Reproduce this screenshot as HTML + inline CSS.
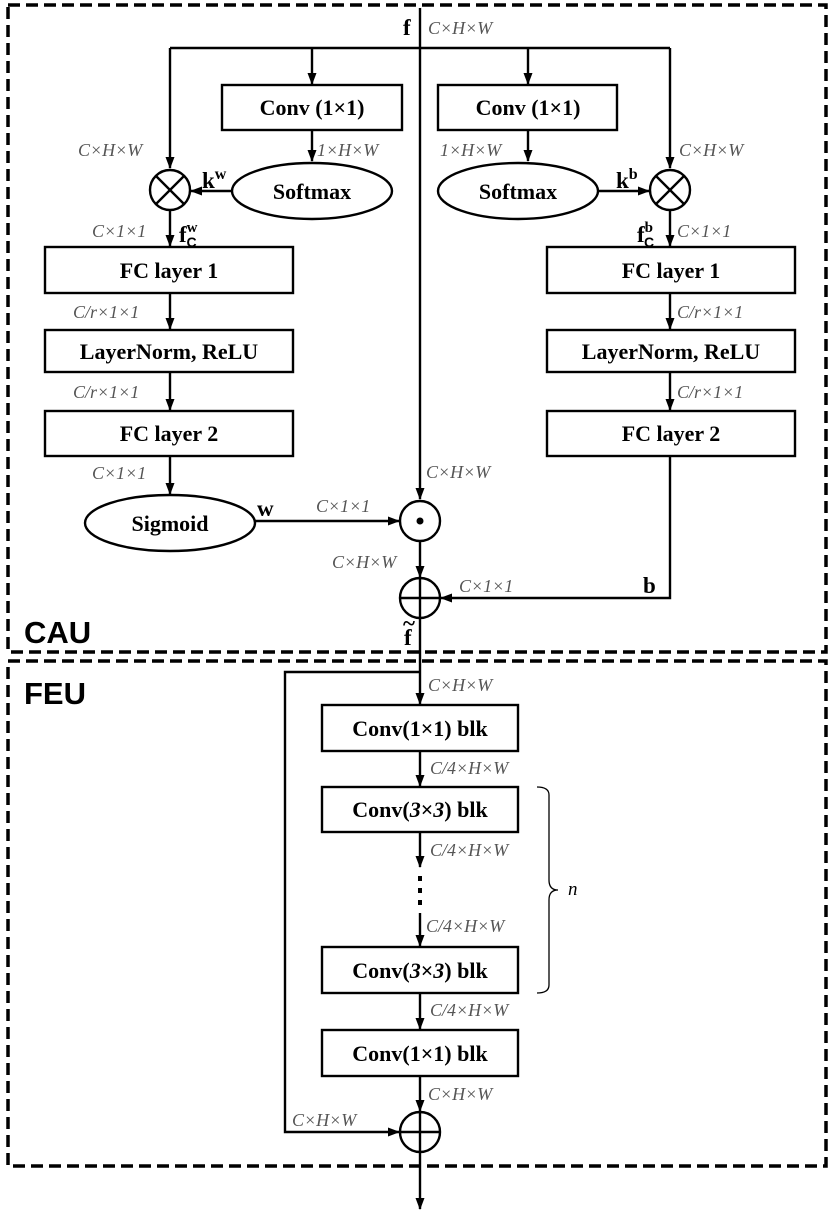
<!DOCTYPE html>
<html><head><meta charset="utf-8"><style>
html,body{margin:0;padding:0;background:#fff;}
svg{display:block;}
.b{font-family:"Liberation Serif",serif;font-weight:bold;font-size:22px;fill:#000;text-anchor:middle;}
.l{font-family:"Liberation Serif",serif;font-style:italic;font-size:18px;fill:#555;}
.s{font-family:"Liberation Sans",sans-serif;font-weight:bold;font-size:31px;fill:#000;}
.v{font-family:"Liberation Serif",serif;font-weight:bold;font-size:23px;fill:#000;}
</style></head><body>
<svg width="830" height="1218" viewBox="0 0 830 1218" xmlns="http://www.w3.org/2000/svg">
<defs><marker id="a" markerWidth="12" markerHeight="12" refX="11" refY="6" orient="auto" markerUnits="userSpaceOnUse"><path d="M0,1.5 L12,6 L0,10.5 Z" fill="#000"/></marker></defs>
<g fill="none" stroke="#000" stroke-width="3.5" stroke-dasharray="12,6">
<rect x="8" y="5" width="818" height="647"/>
<rect x="8" y="661" width="818" height="505"/>
</g>
<g fill="none" stroke="#000" stroke-width="2.4">
<line x1="420" y1="8" x2="420" y2="499" marker-end="url(#a)"/>
<line x1="170" y1="48" x2="670" y2="48"/>
<line x1="170" y1="48" x2="170" y2="168" marker-end="url(#a)"/>
<line x1="670" y1="48" x2="670" y2="168" marker-end="url(#a)"/>
<line x1="312" y1="48" x2="312" y2="84" marker-end="url(#a)"/>
<line x1="528" y1="48" x2="528" y2="84" marker-end="url(#a)"/>
<rect x="222" y="85" width="180" height="45"/>
<rect x="438" y="85" width="179" height="45"/>
<line x1="312" y1="130" x2="312" y2="161" marker-end="url(#a)"/>
<line x1="528" y1="130" x2="528" y2="161" marker-end="url(#a)"/>
<ellipse cx="312" cy="191" rx="80" ry="28"/>
<ellipse cx="518" cy="191" rx="80" ry="28"/>
<circle cx="170" cy="190" r="20"/>
<line x1="156" y1="176" x2="184" y2="204"/><line x1="184" y1="176" x2="156" y2="204"/>
<circle cx="670" cy="190" r="20"/>
<line x1="656" y1="176" x2="684" y2="204"/><line x1="684" y1="176" x2="656" y2="204"/>
<line x1="232" y1="191" x2="191" y2="191" marker-end="url(#a)"/>
<line x1="598" y1="191" x2="649" y2="191" marker-end="url(#a)"/>
<line x1="170" y1="210" x2="170" y2="246" marker-end="url(#a)"/>
<line x1="670" y1="210" x2="670" y2="246" marker-end="url(#a)"/>
<rect x="45" y="247" width="248" height="46"/>
<rect x="547" y="247" width="248" height="46"/>
<line x1="170" y1="293" x2="170" y2="329" marker-end="url(#a)"/>
<line x1="670" y1="293" x2="670" y2="329" marker-end="url(#a)"/>
<rect x="45" y="330" width="248" height="42"/>
<rect x="547" y="330" width="248" height="42"/>
<line x1="170" y1="372" x2="170" y2="410" marker-end="url(#a)"/>
<line x1="670" y1="372" x2="670" y2="410" marker-end="url(#a)"/>
<rect x="45" y="411" width="248" height="45"/>
<rect x="547" y="411" width="248" height="45"/>
<line x1="170" y1="456" x2="170" y2="494" marker-end="url(#a)"/>
<ellipse cx="170" cy="523" rx="85" ry="28"/>
<line x1="255" y1="521" x2="399" y2="521" marker-end="url(#a)"/>
<circle cx="420" cy="521" r="20"/>
<line x1="420" y1="541" x2="420" y2="577" marker-end="url(#a)"/>
<circle cx="420" cy="598" r="20"/>
<line x1="400" y1="598" x2="440" y2="598"/>
<line x1="420" y1="578" x2="420" y2="704" marker-end="url(#a)"/>
<polyline points="670,456 670,598 441,598" marker-end="url(#a)"/>
<polyline points="420,672 285,672 285,1132 399,1132" marker-end="url(#a)"/>
<rect x="322" y="705" width="196" height="46"/>
<line x1="420" y1="751" x2="420" y2="786" marker-end="url(#a)"/>
<rect x="322" y="787" width="196" height="45"/>
<line x1="420" y1="832" x2="420" y2="867" marker-end="url(#a)"/>
<line x1="420" y1="913" x2="420" y2="946" marker-end="url(#a)"/>
<rect x="322" y="947" width="196" height="46"/>
<line x1="420" y1="993" x2="420" y2="1029" marker-end="url(#a)"/>
<rect x="322" y="1030" width="196" height="46"/>
<line x1="420" y1="1076" x2="420" y2="1111" marker-end="url(#a)"/>
<circle cx="420" cy="1132" r="20"/>
<line x1="400" y1="1132" x2="440" y2="1132"/>
<line x1="420" y1="1112" x2="420" y2="1209" marker-end="url(#a)"/>
<path d="M537,787 Q549,787 549,795 L549,880 Q549,890 558,890 Q549,890 549,900 L549,985 Q549,993 537,993" stroke-width="1.3"/>
</g>
<circle cx="420" cy="521" r="3.5" fill="#000"/>
<rect x="418" y="876" width="4" height="5" fill="#000"/>
<rect x="418" y="888" width="4" height="5" fill="#000"/>
<rect x="418" y="900" width="4" height="5" fill="#000"/>
<text class="b" x="312" y="115">Conv (1×1)</text>
<text class="b" x="528" y="115">Conv (1×1)</text>
<text class="b" x="312" y="199">Softmax</text>
<text class="b" x="518" y="199">Softmax</text>
<text class="b" x="169" y="278">FC layer 1</text>
<text class="b" x="671" y="278">FC layer 1</text>
<text class="b" x="169" y="359">LayerNorm, ReLU</text>
<text class="b" x="671" y="359">LayerNorm, ReLU</text>
<text class="b" x="169" y="441">FC layer 2</text>
<text class="b" x="671" y="441">FC layer 2</text>
<text class="b" x="170" y="531">Sigmoid</text>
<text class="b" x="420" y="736">Conv(1×1) blk</text>
<text class="b" x="420" y="817">Conv(<tspan font-style="italic">3</tspan>×<tspan font-style="italic">3</tspan>) blk</text>
<text class="b" x="420" y="978">Conv(<tspan font-style="italic">3</tspan>×<tspan font-style="italic">3</tspan>) blk</text>
<text class="b" x="420" y="1061">Conv(1×1) blk</text>
<text class="s" x="24" y="643">CAU</text>
<text class="s" x="24" y="704">FEU</text>
<text class="v" x="403" y="35">f</text>
<text class="v" x="202" y="188">k<tspan font-size="16" dy="-9">w</tspan></text>
<text class="v" x="616" y="188">k<tspan font-size="16" dy="-9">b</tspan></text>
<text class="v" x="179" y="242">f<tspan font-size="15" dy="-10">w</tspan><tspan font-size="14" font-family="Liberation Sans" dx="-11" dy="15">C</tspan></text>
<text class="v" x="637" y="242">f<tspan font-size="15" dy="-10">b</tspan><tspan font-size="14" font-family="Liberation Sans" dx="-9" dy="15">C</tspan></text>
<text class="v" x="257" y="516">w</text>
<text class="v" x="643" y="593">b</text>
<text class="v" x="404" y="645">f</text>
<text class="v" x="403" y="631" font-size="16">~</text>
<text class="l" x="428" y="34">C×H×W</text>
<text class="l" x="78" y="156">C×H×W</text>
<text class="l" x="317" y="156">1×H×W</text>
<text class="l" x="440" y="156">1×H×W</text>
<text class="l" x="679" y="156">C×H×W</text>
<text class="l" x="92" y="237">C×1×1</text>
<text class="l" x="677" y="237">C×1×1</text>
<text class="l" x="73" y="318">C/r×1×1</text>
<text class="l" x="677" y="318">C/r×1×1</text>
<text class="l" x="73" y="398">C/r×1×1</text>
<text class="l" x="677" y="398">C/r×1×1</text>
<text class="l" x="92" y="479">C×1×1</text>
<text class="l" x="426" y="478">C×H×W</text>
<text class="l" x="316" y="512">C×1×1</text>
<text class="l" x="332" y="568">C×H×W</text>
<text class="l" x="459" y="592">C×1×1</text>
<text class="l" x="428" y="691">C×H×W</text>
<text class="l" x="430" y="774">C/4×H×W</text>
<text class="l" x="430" y="856">C/4×H×W</text>
<text class="l" x="426" y="932">C/4×H×W</text>
<text class="l" x="430" y="1016">C/4×H×W</text>
<text class="l" x="428" y="1100">C×H×W</text>
<text class="l" x="292" y="1126">C×H×W</text>
<text class="l" x="568" y="895" style="fill:#000;font-size:19px">n</text>
</svg>
</body></html>
